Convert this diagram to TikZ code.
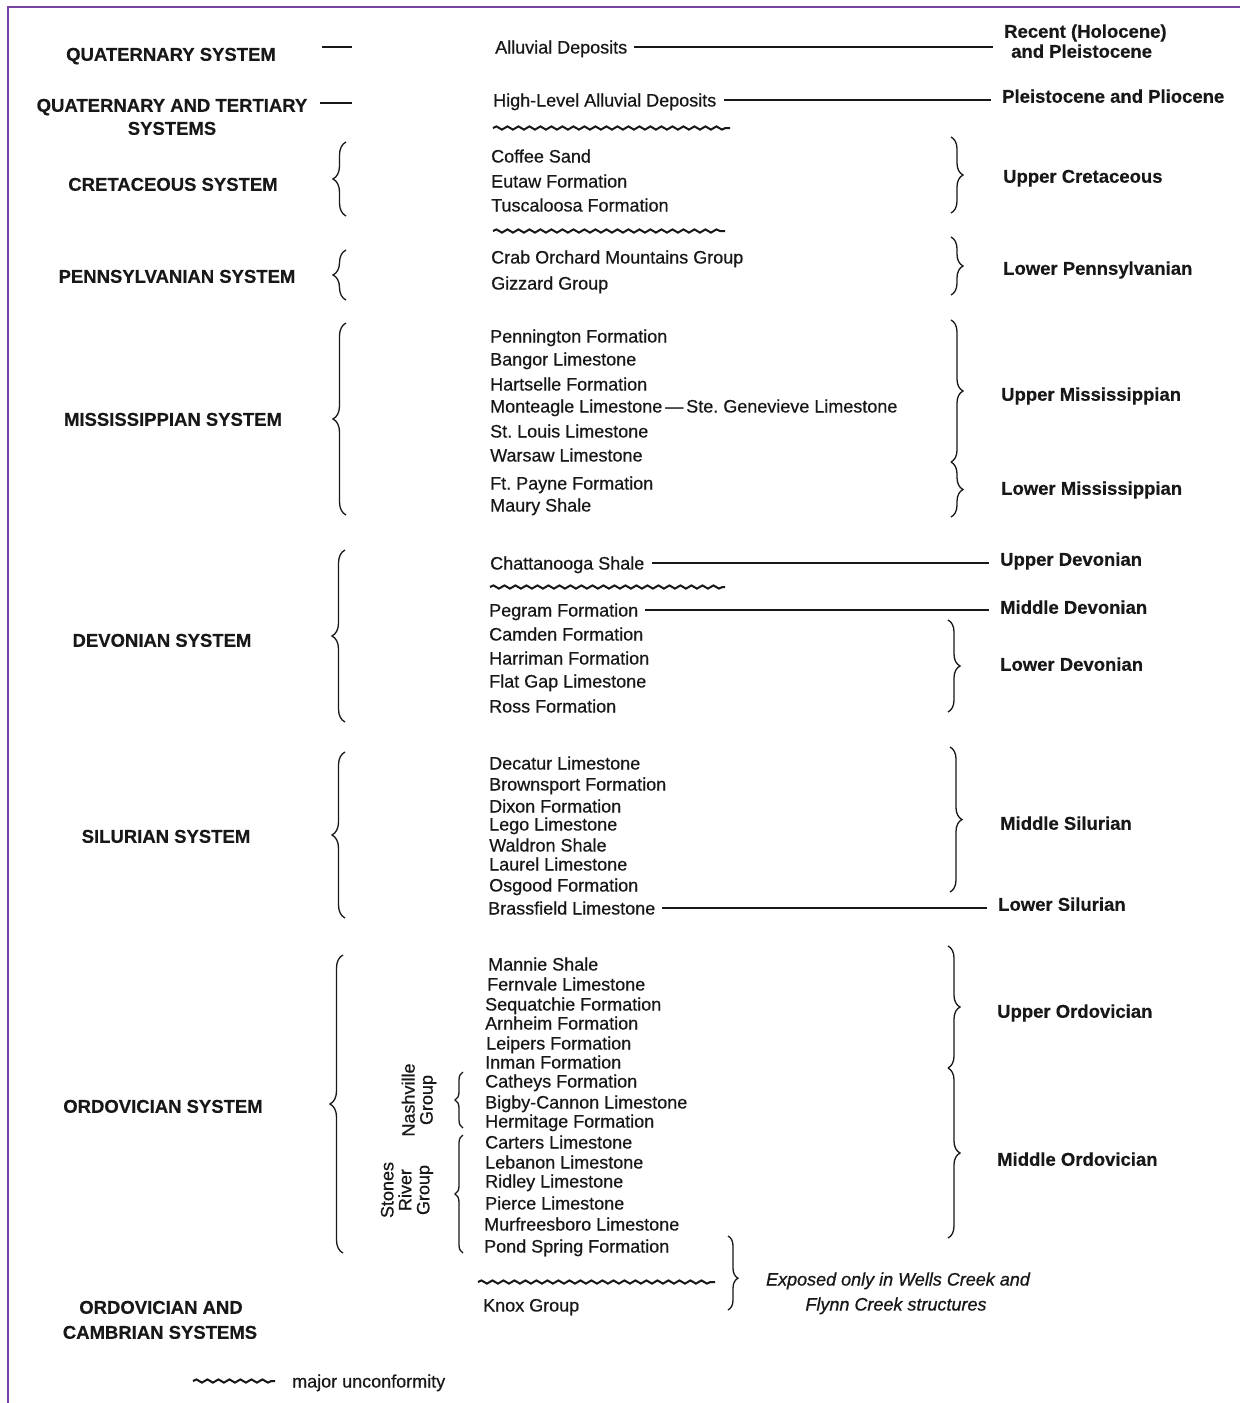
\documentclass[tikz,border=0pt]{standalone}
\usepackage{fontspec}
\setmainfont{Liberation Sans}
\newfontfamily\midfont[FakeBold=0.5]{Liberation Sans}
\newfontfamily\notefont[FakeBold=0.8]{Liberation Sans Italic}
\newfontfamily\sysfont[FakeBold=0.4]{Liberation Sans Bold}
\usetikzlibrary{decorations.pathreplacing,decorations.pathmorphing}
\definecolor{ink}{RGB}{24,24,24}
\definecolor{framec}{RGB}{118,68,160}
\frenchspacing
\begin{document}
\frenchspacing
\begin{tikzpicture}[x=1pt,y=-1pt,
  mid/.style={anchor=west,inner sep=0pt,text height=13pt,text depth=0pt,font=\midfont\fontsize{18}{18}\selectfont\frenchspacing,text=ink},
  sys/.style={inner sep=0pt,text height=13.5pt,text depth=0pt,font=\sysfont\fontsize{18.5}{18.5}\selectfont,text=ink},
  age/.style={anchor=west,inner sep=0pt,text height=13.5pt,text depth=0pt,font=\sysfont\fontsize{18.5}{18.5}\selectfont,text=ink},
  note/.style={inner sep=0pt,text height=13pt,text depth=0pt,font=\notefont\fontsize{18}{18}\selectfont,text=ink},
  grp/.style={inner sep=0pt,rotate=90,align=center,font=\midfont\fontsize{18}{18}\selectfont,text=ink},
  conn/.style={draw=ink,line width=1.1pt,shorten <=7pt,shorten >=11pt},
  dashmark/.style={draw=ink,line width=1.1pt},
  lbrace/.style={draw=ink,line width=1.3pt,decorate,decoration={brace,amplitude=13pt}},
  rbrace/.style={draw=ink,line width=1.3pt,decorate,decoration={brace,amplitude=12pt}},
  sbrace/.style={draw=ink,line width=1.3pt,decorate,decoration={brace,amplitude=8pt}},
  wavy/.style={draw=ink,line width=2pt,decorate,decoration={snake,segment length=11pt,amplitude=1.6pt}}
]
\useasboundingbox (0,0) rectangle (1240,1403);
\fill[white] (0,0) rectangle (1240,1403);
\draw[framec,line width=2pt] (8,1403) -- (8,7) -- (1240,7);

% ---------- systems (left column) ----------
\node[sys] (qs)  at (171,54)   {QUATERNARY SYSTEM};
\node[sys] (qt1) at (172,105)  {QUATERNARY AND TERTIARY};
\node[sys] (qt2) at (172,128)  {SYSTEMS};
\node[sys] (cs)  at (173,184)  {CRETACEOUS SYSTEM};
\node[sys] (ps)  at (177,276)  {PENNSYLVANIAN SYSTEM};
\node[sys] (ms)  at (173,419)  {MISSISSIPPIAN SYSTEM};
\node[sys] (ds)  at (162,640)  {DEVONIAN SYSTEM};
\node[sys] (ss)  at (166,836)  {SILURIAN SYSTEM};
\node[sys] (os)  at (163,1106) {ORDOVICIAN SYSTEM};
\node[sys] (oc1) at (161,1307) {ORDOVICIAN AND};
\node[sys] (oc2) at (160,1332) {CAMBRIAN SYSTEMS};

\draw[dashmark] (322,47) -- (352,47);
\draw[dashmark] (320,103) -- (352,103);

% left braces
\draw[lbrace] (346,216) -- (346,142);
\draw[lbrace] (346,300) -- (346,250);
\draw[lbrace] (346,515) -- (346,323);
\draw[lbrace] (345,722) -- (345,550);
\draw[lbrace] (345,918) -- (345,752);
\draw[lbrace] (343,1253) -- (343,955);

% ---------- formations (middle column) ----------
\node[mid] (ad)  at (495,47)  {Alluvial Deposits};
\node[mid] (hl)  at (493,100) {High-Level Alluvial Deposits};
\draw[wavy] (493,128) -- (730,128);
\node[mid] (cof) at (491,156) {Coffee Sand};
\node[mid] (eut) at (491,181) {Eutaw Formation};
\node[mid] (tus) at (491,205) {Tuscaloosa Formation};
\draw[wavy] (493,231) -- (725,231);
\node[mid] (cro) at (491,257) {Crab Orchard Mountains Group};
\node[mid] (giz) at (491,283) {Gizzard Group};
\node[mid] (pen) at (490,336) {Pennington Formation};
\node[mid] (ban) at (490,359) {Bangor Limestone};
\node[mid] (har) at (490,384) {Hartselle Formation};
\node[mid] (mon) at (490,406) {Monteagle Limestone\,—\,Ste. Genevieve Limestone};
\node[mid] (stl) at (490,431) {St. Louis Limestone};
\node[mid] (war) at (490,455) {Warsaw Limestone};
\node[mid] (ftp) at (490,483) {Ft. Payne Formation};
\node[mid] (mau) at (490,505) {Maury Shale};
\node[mid] (cha) at (490,563) {Chattanooga Shale};
\draw[wavy] (490,587) -- (725,587);
\node[mid] (peg) at (489,610) {Pegram Formation};
\node[mid] (cam) at (489,634) {Camden Formation};
\node[mid] (hrr) at (489,658) {Harriman Formation};
\node[mid] (flg) at (489,681) {Flat Gap Limestone};
\node[mid] (ros) at (489,706) {Ross Formation};
\node[mid] (dec) at (489,763) {Decatur Limestone};
\node[mid] (bro) at (489,784) {Brownsport Formation};
\node[mid] (dix) at (489,806) {Dixon Formation};
\node[mid] (leg) at (489,824) {Lego Limestone};
\node[mid] (wal) at (489,845) {Waldron Shale};
\node[mid] (lau) at (489,864) {Laurel Limestone};
\node[mid] (osg) at (489,885) {Osgood Formation};
\node[mid] (bra) at (488,908) {Brassfield Limestone};
\node[mid] (man) at (488,964)  {Mannie Shale};
\node[mid] (fer) at (487,984)  {Fernvale Limestone};
\node[mid] (seq) at (485,1004) {Sequatchie Formation};
\node[mid] (arn) at (485,1023) {Arnheim Formation};
\node[mid] (lei) at (486,1043) {Leipers Formation};
\node[mid] (inm) at (485,1062) {Inman Formation};
\node[mid] (cat) at (485,1081) {Catheys Formation};
\node[mid] (big) at (485,1102) {Bigby-Cannon Limestone};
\node[mid] (her) at (485,1121) {Hermitage Formation};
\node[mid] (car) at (485,1142) {Carters Limestone};
\node[mid] (leb) at (485,1162) {Lebanon Limestone};
\node[mid] (rid) at (485,1181) {Ridley Limestone};
\node[mid] (pie) at (485,1203) {Pierce Limestone};
\node[mid] (mur) at (484,1224) {Murfreesboro Limestone};
\node[mid] (pon) at (484,1246) {Pond Spring Formation};
\draw[wavy] (478,1282) -- (715,1282);
\node[mid] (kno) at (483,1305) {Knox Group};

% group labels and braces
\node[grp] (nas) at (419,1100) {Nashville\\Group};
\node[grp] (sto) at (407,1190) {Stones\\River\\Group};
\draw[sbrace] (463,1128) -- (463,1072);
\draw[sbrace] (463,1253) -- (463,1135);

% ---------- ages (right column) ----------
\node[age] (rec1) at (1004,31)  {Recent (Holocene)};
\node[age] (rec2) at (1011,51)  {and Pleistocene};
\node[age] (ppl)  at (1002,96)  {Pleistocene and Pliocene};
\node[age] (ucr)  at (1003,176) {Upper Cretaceous};
\node[age] (lpe)  at (1003,268) {Lower Pennsylvanian};
\node[age] (umi)  at (1001,394) {Upper Mississippian};
\node[age] (lmi)  at (1001,488) {Lower Mississippian};
\node[age] (ude)  at (1000,559) {Upper Devonian};
\node[age] (mde)  at (1000,607) {Middle Devonian};
\node[age] (lde)  at (1000,664) {Lower Devonian};
\node[age] (msi)  at (1000,823) {Middle Silurian};
\node[age] (lsi)  at (998,904)  {Lower Silurian};
\node[age] (uor)  at (997,1011) {Upper Ordovician};
\node[age] (mor)  at (997,1159) {Middle Ordovician};
\node[note] (ex1) at (898,1279) {Exposed only in Wells Creek and};
\node[note] (ex2) at (896,1304) {Flynn Creek structures};

% connectors
\draw[conn] (ad.east)  -- (ad.east -| rec1.west);
\draw[conn] (hl.east)  -- (hl.east -| ppl.west);
\draw[conn] (cha.east) -- (cha.east -| ude.west);
\draw[conn] (peg.east) -- (peg.east -| mde.west);
\draw[conn] (bra.east) -- (bra.east -| lsi.west);

% right braces
\draw[rbrace] (951,137) -- (951,213);
\draw[rbrace] (951,237) -- (951,295);
\draw[rbrace] (951,320) -- (951,462);
\draw[rbrace] (951,462) -- (951,517);
\draw[rbrace] (948,620) -- (948,712);
\draw[rbrace] (950,747) -- (950,892);
\draw[rbrace] (948,946) -- (948,1068);
\draw[rbrace] (948,1068) -- (948,1238);
\draw[rbrace,decoration={brace,amplitude=10pt,aspect=0.57}] (728,1236) -- (728,1310);

% legend
\draw[wavy] (193,1381) -- (275,1381);
\node[mid] (leglab) at (292,1381) {major unconformity};
\end{tikzpicture}
\end{document}
